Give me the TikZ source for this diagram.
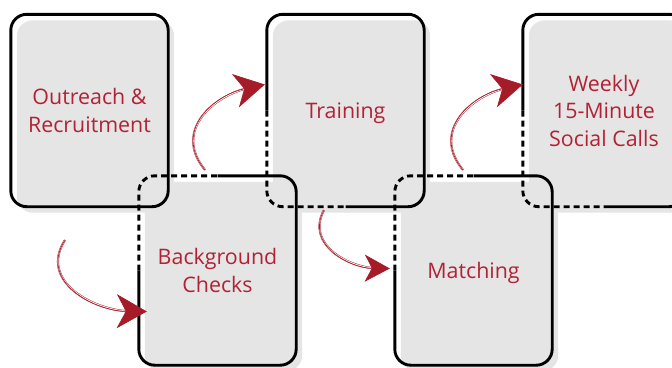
\documentclass[tikz,border=0pt]{standalone}
\usepackage{fontspec}
\setmainfont{Open Sans}
\usetikzlibrary{arrows.meta,backgrounds}
\definecolor{cardgray}{RGB}{229,229,229}
\definecolor{cardtext}{RGB}{178,34,52}
\definecolor{inkred}{RGB}{165,28,40}

\begin{document}
\begin{tikzpicture}[x=1pt,y=-1pt,
	card/.style={minimum width=157pt,minimum height=192pt,inner sep=0pt,align=center,text depth=0pt,text=cardtext,font=\fontsize{21.4}{27.5}\selectfont},
	lowcard/.style={card,minimum height=189pt},
	cardfill/.style={fill=cardgray,rounded corners=16pt},
	rim/.style={line width=2.9pt,rounded corners=16pt},
	rimdash/.style={rim,dash pattern=on 6pt off 4pt},
	shaft/.style={draw=inkred,line width=0.45pt,double=white,double distance=1.2pt,shorten >=16pt},
	inkhead/.style={draw=inkred,line width=0.7pt,-{Stealth[length=30pt,width=34pt,inset=9pt]}},
	smallhead/.style={draw=inkred,line width=0.7pt,-{Stealth[length=25pt,width=27pt,inset=7pt]}}]

	\useasboundingbox (0,0) rectangle (672,367);
	\clip (0,0) rectangle (672,367);

	\node[card] (out) at (89.5,110.5) {Outreach \&\\Recruitment};
	\node[lowcard] (check) at (217.5,270.5) {Background\\Checks};
	\node[card] (train) at (345.5,110.5) {Training};
	\node[lowcard] (match) at (473.5,270.5) {Matching};
	\node[card,minimum width=162pt] (calls) at (604,110.5) {Weekly\\15-Minute\\Social Calls};

	% grey sheets, a bit offset
	\begin{scope}[on background layer]
		\fill[cardfill] ([shift={(6,6)}]out.north west) rectangle ([shift={(6,6)}]out.south east);
		\fill[cardfill] ([shift={(6,6)}]check.north west) rectangle ([shift={(6,6)}]check.south east);
		\fill[cardfill] ([shift={(6,6)}]train.north west) rectangle ([shift={(6,6)}]train.south east);
		\fill[cardfill] ([shift={(6,6)}]match.north west) rectangle ([shift={(6,6)}]match.south east);
		\fill[cardfill] ([shift={(6,6)}]calls.north west) rectangle ([shift={(6,6)}]calls.south east);
	\end{scope}

	% outlines
	\draw[rim] (out.north west) rectangle (out.south east);

	\draw[rim] (check.north) -| (check.south east) -| (check.west);
	\draw[rimdash] (check.west) |- (check.north);

	\draw[rim] (train.west) |- (train.north east) |- (train.south);
	\draw[rimdash] (train.west) |- (train.south);

	\draw[rim] (match.north) -| (match.south east) -| (match.west);
	\draw[rimdash] (match.west) |- (match.north);

	\draw[rim] (calls.west) |- (calls.north east) |- (calls.south);
	\draw[rimdash] (calls.west) |- (calls.south);

	% hand drawn arrows
	\coordinate (s1) at (65,240);
	\coordinate (t1) at ([shift={(8,41)}]check.west);
	\draw[shaft] (s1) .. controls (38,282) and (95,311) .. (t1);
	\draw[inkhead] (s1) .. controls (38,282) and (95,311) .. (t1);

	\coordinate (s2) at (205,170);
	\coordinate (t2) at ([shift={(-2,-26)}]train.west);
	\draw[shaft] (s2) .. controls (172,130) and (215,95) .. (t2);
	\draw[inkhead] (s2) .. controls (172,130) and (215,95) .. (t2);

	\coordinate (s3) at (324,210);
	\coordinate (t3) at ([shift={(-5,-2)}]match.west);
	\draw[shaft,shorten >=13pt] (s3) .. controls (305,245) and (350,268) .. (t3);
	\draw[smallhead] (s3) .. controls (305,245) and (350,268) .. (t3);

	\coordinate (s4) at (463,170);
	\coordinate (t4) at ([shift={(0,-26)}]calls.west);
	\draw[shaft] (s4) .. controls (430,130) and (473,95) .. (t4);
	\draw[inkhead] (s4) .. controls (430,130) and (473,95) .. (t4);

\end{tikzpicture}
\end{document}
